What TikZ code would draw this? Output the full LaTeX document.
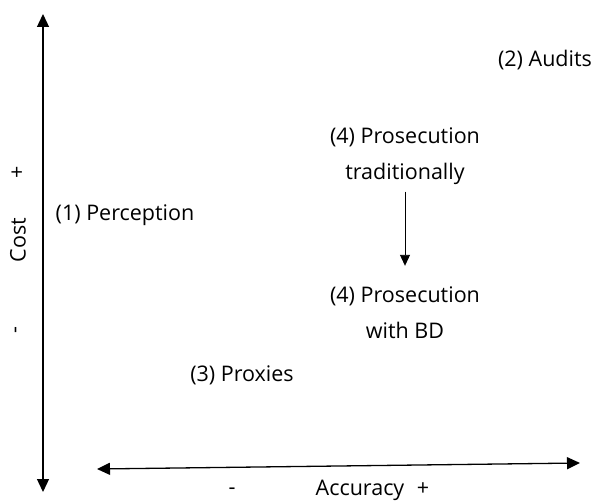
\documentclass[tikz,border=0pt]{standalone}
\usepackage{fontspec}
\setmainfont{Open Sans}[Ligatures=CommonOff]
\usetikzlibrary{arrows.meta, positioning}
\tikzstyle{axis}  = [line width=1.3pt, {Triangle[length=13pt,width=12pt]}-{Triangle[length=13pt,width=12pt]}]
\tikzstyle{arrow} = [line width=0.9pt, -{Triangle[length=11pt,width=10pt]}]
\tikzstyle{lbl}   = [font=\fontsize{21.5}{25}\selectfont, inner sep=1pt]
\tikzset{every node/.style={align=center}}

\begin{document}
\begin{tikzpicture}[x=1pt, y=1pt]
    \useasboundingbox (0,0) rectangle (596,501);

    % axes
    \coordinate (ytop) at (43, 487);
    \coordinate (ybot) at (43, 9);
    \coordinate (xlft) at (97, 32);
    \coordinate (xrgt) at (580, 38);
    \draw [axis] (ybot) -- (ytop);
    \draw [axis] (xlft) -- (xrgt);

    % axis labels
    \node (cost)  at (18, 261) [lbl, rotate=90] {Cost};
    \node (cplus) at (18, 329) [lbl, rotate=90] {+};
    \node (cmin)  at (18, 171) [lbl, rotate=90] {-};
    \node (acc)   at (360, 11) [lbl] {Accuracy};
    \node (aplus) at (423, 12) [lbl] {+};
    \node (amin)  at (232, 10) [lbl] {-};

    % methods
    \node (perc)  at (125, 286) [lbl] {(1) Perception};
    \node (aud)   at (545, 441) [lbl] {(2) Audits};
    \node (prox)  at (242, 126) [lbl] {(3) Proxies};
    \node (prtr)  at (405, 345) [lbl] {(4) Prosecution\\[11pt]traditionally};
    \node (prbd)  at (405, 188) [lbl] {(4) Prosecution\\[11pt]with BD};

    \draw [arrow, shorten <=6pt, shorten >=20pt] (prtr) -- (prbd);
\end{tikzpicture}
\end{document}
